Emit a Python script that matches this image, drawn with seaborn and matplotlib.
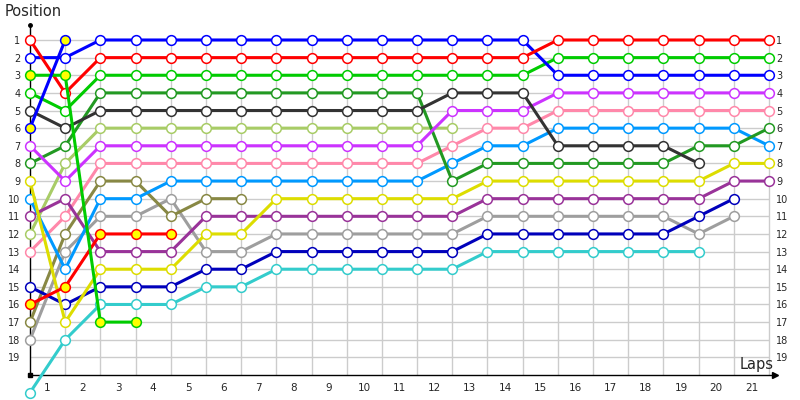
import matplotlib
matplotlib.use("Agg")
import matplotlib.pyplot as plt
import seaborn as sns
import pandas as pd

#-----------------------------------------------
# Данные: позиции пилотов по кругам (круг 0 = старт)
#-----------------------------------------------
laps = list(range(0, 22))
lap_labels = list(range(1, 22))
positions = list(range(1, 20))

red_a = [1, 4, 2, 2, 2, 2, 2, 2, 2, 2, 2, 2, 2, 2, 2, 1, 1, 1, 1, 1, 1, 1]
blue_a = [2, 2, 1, 1, 1, 1, 1, 1, 1, 1, 1, 1, 1, 1, 1, 3, 3, 3, 3, 3, 3, 3]
green_a = [4, 5, 3, 3, 3, 3, 3, 3, 3, 3, 3, 3, 3, 3, 3, 2, 2, 2, 2, 2, 2, 2]
green_b = [3, 3, 17, 17]
black = [5, 6, 5, 5, 5, 5, 5, 5, 5, 5, 5, 5, 4, 4, 4, 7, 7, 7, 7, 8]
blue_b = [6, 1]
purple = [7, 9, 7, 7, 7, 7, 7, 7, 7, 7, 7, 7, 5, 5, 5, 4, 4, 4, 4, 4, 4, 4]
dark_green = [8, 7, 4, 4, 4, 4, 4, 4, 4, 4, 4, 4, 9, 8, 8, 8, 8, 8, 8, 7, 7, 6]
yellow = [9, 17, 14, 14, 14, 12, 12, 10, 10, 10, 10, 10, 10, 9, 9, 9, 9, 9, 9, 9, 8, 8]
light_blue = [10, 14, 10, 10, 9, 9, 9, 9, 9, 9, 9, 9, 8, 7, 7, 6, 6, 6, 6, 6, 6, 7]
dark_purple = [11, 10, 13, 13, 13, 11, 11, 11, 11, 11, 11, 11, 11, 10, 10, 10, 10, 10, 10, 10, 9, 9]
light_green = [12, 8, 6, 6, 6, 6, 6, 6, 6, 6, 6, 6, 6]
pink = [13, 11, 8, 8, 8, 8, 8, 8, 8, 8, 8, 8, 7, 6, 6, 5, 5, 5, 5, 5, 5, 5]
navy = [15, 16, 15, 15, 15, 14, 14, 13, 13, 13, 13, 13, 13, 12, 12, 12, 12, 12, 12, 11, 10]
red_b = [16, 15, 12, 12, 12]
olive = [17, 12, 9, 9, 11, 10, 10]
gray = [18, 13, 11, 11, 10, 13, 13, 12, 12, 12, 12, 12, 12, 11, 11, 11, 11, 11, 11, 12, 11]
cyan = [21, 18, 16, 16, 16, 15, 15, 14, 14, 14, 14, 14, 14, 13, 13, 13, 13, 13, 13, 13]

# (позиции, цвет линии, цвет заливки маркера)
drivers = [
    (cyan, "#33cccc", "white"),
    (gray, "#9e9e9e", "white"),
    (olive, "#888844", "white"),
    (navy, "#0000bb", "white"),
    (pink, "#ff88aa", "white"),
    (light_green, "#a8cc66", "white"),
    (dark_purple, "#993399", "white"),
    (light_blue, "#0099ff", "white"),
    (yellow, "#dddd00", "white"),
    (dark_green, "#229922", "white"),
    (purple, "#cc33ff", "white"),
    (black, "#333333", "white"),
    (green_a, "#00cc00", "white"),
    (blue_a, "#0000ff", "white"),
    (red_a, "#ff0000", "white"),
    (red_b, "#ff0000", "#ffff00"),
    (green_b, "#00cc00", "#ffff00"),
    (blue_b, "#0000ff", "#ffff00"),
]

sns.set_style("white")
plt.rcParams['font.family'] = ['DejaVu Sans']

fig = plt.figure(figsize=(8, 4), dpi=100)
ax = fig.add_axes([30 / 800, 25 / 400, 745 / 800, 350 / 400])
ax.set_xlim(0, 21.17)
ax.set_ylim(20, 0.15)

# сетка
grid_c = "#cccccc"
ax.vlines(laps[1:], 0.72, 20, color=grid_c, lw=1, zorder=0)
ax.hlines(positions, 0, laps[-1], color=grid_c, lw=1, zorder=0)

for pos, col, fill in drivers:
    df = pd.DataFrame({"lap": laps[:len(pos)], "pos": pos})
    sns.lineplot(data=df, x="lap", y="pos", ax=ax, color=col,
                 estimator=None, sort=False, lw=2.2,
                 marker="o", markersize=7, markerfacecolor=fill,
                 markeredgecolor=col, markeredgewidth=1.1,
                 clip_on=False, legend=False, zorder=3)

ax.set_xlabel("")
ax.set_ylabel("")
for s in ["top", "right"]:
    ax.spines[s].set_visible(False)
for s in ["left", "bottom"]:
    ax.spines[s].set_color("black")
    ax.spines[s].set_linewidth(1)

ax.set_xticks([l - 0.5 for l in lap_labels])
ax.set_xticklabels([str(l) for l in lap_labels])
ax.set_yticks(positions)
ax.set_yticklabels([str(p) for p in positions])
ax.tick_params(axis="x", length=0, pad=6, labelsize=7.5)
ax.tick_params(axis="y", length=0, pad=7, labelsize=7)

ax2 = ax.twinx()
ax2.set_ylim(ax.get_ylim())
ax2.set_xlim(ax.get_xlim())
ax2.set_yticks(positions)
ax2.set_yticklabels([str(p) for p in positions])
ax2.tick_params(axis="y", length=0, pad=1, labelsize=7)
for s in ax2.spines.values():
    s.set_visible(False)

# концы осей
ax.plot(1, 0, ">k", transform=ax.transAxes, clip_on=False, ms=4)
ax.plot(0, 1, "ok", transform=ax.transAxes, clip_on=False, ms=2.5)
ax.plot(0, 0, "sk", transform=ax.transAxes, clip_on=False, ms=2.5)

fig.text(5 / 800, 1 - 4 / 400, "Position", ha="left", va="top", fontsize=10.5)
fig.text(774 / 800, 1 - 369 / 400, "Laps", ha="right", va="baseline", fontsize=10.5)

fig.savefig("out.png", dpi=100)
